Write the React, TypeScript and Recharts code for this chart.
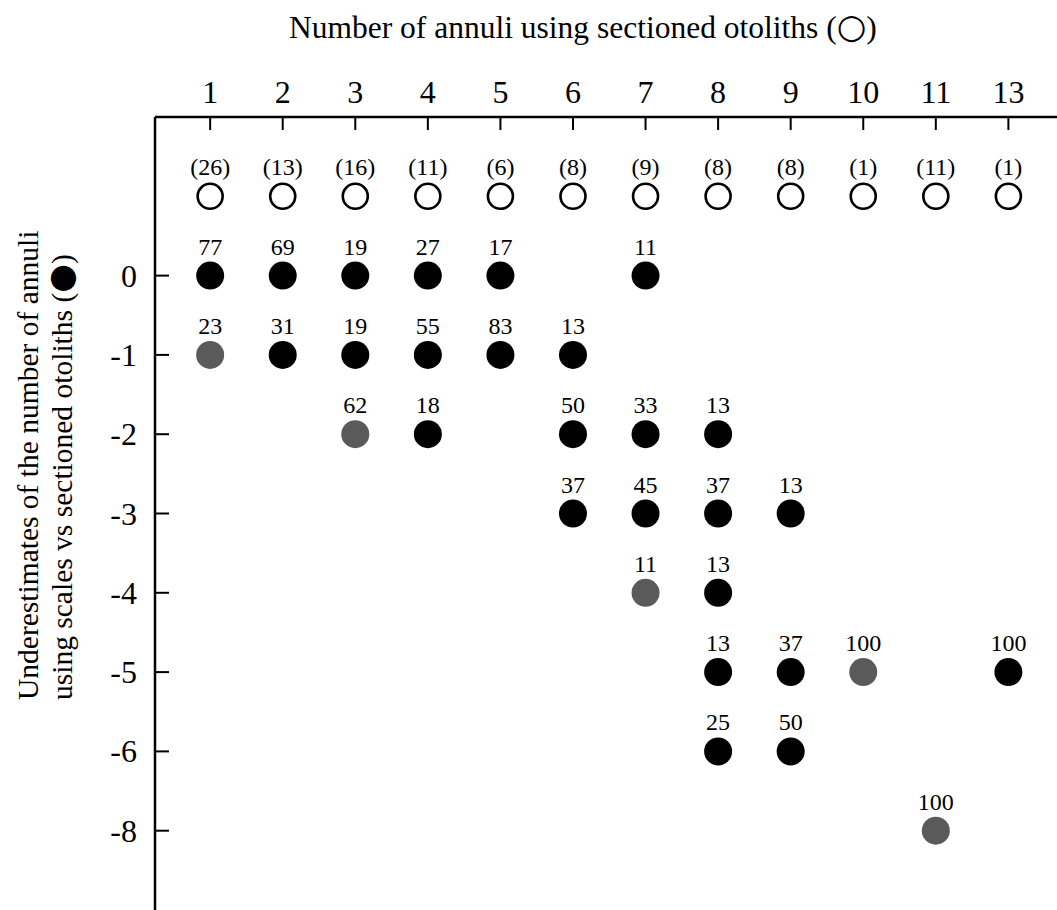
import React from 'react';
import { ScatterChart, Scatter, XAxis, YAxis } from 'recharts';

const FONT = '"Liberation Serif", "DejaVu Serif", serif';

// otolith age classes along the top axis
const annuliClasses = [1, 2, 3, 4, 5, 6, 7, 8, 9, 10, 11, 13];
// number of fish in each age class
const sampleSizes = [26, 13, 16, 11, 6, 8, 9, 8, 8, 1, 11, 1];
// rows of the left axis (no -7 row)
const underestimateRows = [0, -1, -2, -3, -4, -5, -6, -8];

// [otolith annuli, underestimate, % of fish]
const blackPoints = [
    [1, 0, 77], [2, 0, 69], [3, 0, 19], [4, 0, 27], [5, 0, 17], [7, 0, 11],
    [2, -1, 31], [3, -1, 19], [4, -1, 55], [5, -1, 83], [6, -1, 13],
    [4, -2, 18], [6, -2, 50], [7, -2, 33], [8, -2, 13],
    [6, -3, 37], [7, -3, 45], [8, -3, 37], [9, -3, 13],
    [8, -4, 13],
    [8, -5, 13], [9, -5, 37], [13, -5, 100],
    [8, -6, 25], [9, -6, 50],
];
const greyPoints = [
    [1, -1, 23], [3, -2, 62], [7, -4, 11], [10, -5, 100], [11, -8, 100],
];

const OPEN_ROW = 1;
const colOf = (a: number) => annuliClasses.indexOf(a);
const rowOf = (u: number) => -underestimateRows.indexOf(u);

const openData = annuliClasses.map((a, i) => ({ x: colOf(a), y: OPEN_ROW, label: `(${sampleSizes[i]})` }));
const toData = (pts: number[][]) => pts.map(([a, u, p]) => ({ x: colOf(a), y: rowOf(u), label: String(p) }));
const blackData = toData(blackPoints);
const greyData = toData(greyPoints);

const dot = (fill: string) => (props: any) => {
    const { cx, cy, payload } = props;
    return (
        <g>
            <circle cx={cx} cy={cy} r={14} fill={fill} />
            <text x={cx} y={cy - 21} textAnchor="middle" fontSize={24} fontFamily={FONT} fill="#000">
                {payload.label}
            </text>
        </g>
    );
};

const openDot = (props: any) => {
    const { cx, cy, payload } = props;
    return (
        <g>
            <circle cx={cx} cy={cy} r={12.5} fill="#fff" stroke="#000" strokeWidth={2.6} />
            <text x={cx} y={cy - 21} textAnchor="middle" fontSize={24} fontFamily={FONT} fill="#000">
                {payload.label}
            </text>
        </g>
    );
};

const TopTick = (props: any) => {
    const { x, y, payload } = props;
    return (
        <g>
            <line x1={x} y1={y} x2={x} y2={y + 13} stroke="#000" strokeWidth={2} />
            <text x={x} y={y - 14} textAnchor="middle" fontSize={32} fontFamily={FONT} fill="#000">
                {annuliClasses[payload.value]}
            </text>
        </g>
    );
};

const LeftTick = (props: any) => {
    const { x, y, payload } = props;
    return (
        <g>
            <line x1={x} y1={y} x2={x + 14} y2={y} stroke="#000" strokeWidth={2} />
            <text x={x - 18} y={y + 11} textAnchor="end" fontSize={32} fontFamily={FONT} fill="#000">
                {underestimateRows[-payload.value]}
            </text>
        </g>
    );
};

const TopTitle = () => (
    <text x={289} y={38} fontSize={31.5} fontFamily={FONT} fill="#000">
        Number of annuli using sectioned otoliths (
        <tspan fontFamily='"DejaVu Sans", sans-serif' fontSize={34} fontWeight="bold">○</tspan>)
    </text>
);

const LeftTitle = () => (
    <g fontSize={29.5} fontFamily={FONT} fill="#000">
        <text x={38} y={700} transform="rotate(-90 38 700)">
            Underestimates of the number of annuli
        </text>
        <text x={72} y={700} transform="rotate(-90 72 700)">
            using scales vs sectioned otoliths (
            <tspan fontFamily='"DejaVu Sans", sans-serif' fontSize={33}>●</tspan>)
        </text>
    </g>
);

const App: React.FC = () => {
    return (
        <div style={{ position: 'absolute', left: 0, top: 0, background: '#fff' }}>
            <ScatterChart width={1057} height={910} margin={{ top: 0, right: 0, left: 0, bottom: 0 }}>
                <XAxis
                    xAxisId={0}
                    dataKey="x"
                    type="number"
                    orientation="top"
                    domain={[-0.76, 11.67]}
                    ticks={annuliClasses.map((_, i) => i)}
                    interval={0}
                    allowDataOverflow
                    height={117}
                    tickSize={0}
                    tickMargin={0}
                    tickLine={false}
                    axisLine={{ stroke: '#000', strokeWidth: 2.5 }}
                    tick={<TopTick />}
                    label={{ content: () => <TopTitle /> }}
                />
                <YAxis
                    yAxisId={0}
                    dataKey="y"
                    type="number"
                    domain={[-8, 2]}
                    ticks={underestimateRows.map(rowOf)}
                    interval={0}
                    allowDataOverflow
                    width={155}
                    tickSize={0}
                    tickMargin={0}
                    tickLine={false}
                    axisLine={{ stroke: '#000', strokeWidth: 2.5 }}
                    tick={<LeftTick />}
                    label={{ content: () => <LeftTitle /> }}
                />
                <Scatter data={openData} shape={openDot} isAnimationActive={false} />
                <Scatter data={blackData} shape={dot('#000')} isAnimationActive={false} />
                <Scatter data={greyData} shape={dot('#5a5a5a')} isAnimationActive={false} />
            </ScatterChart>
        </div>
    );
};

export default App;
